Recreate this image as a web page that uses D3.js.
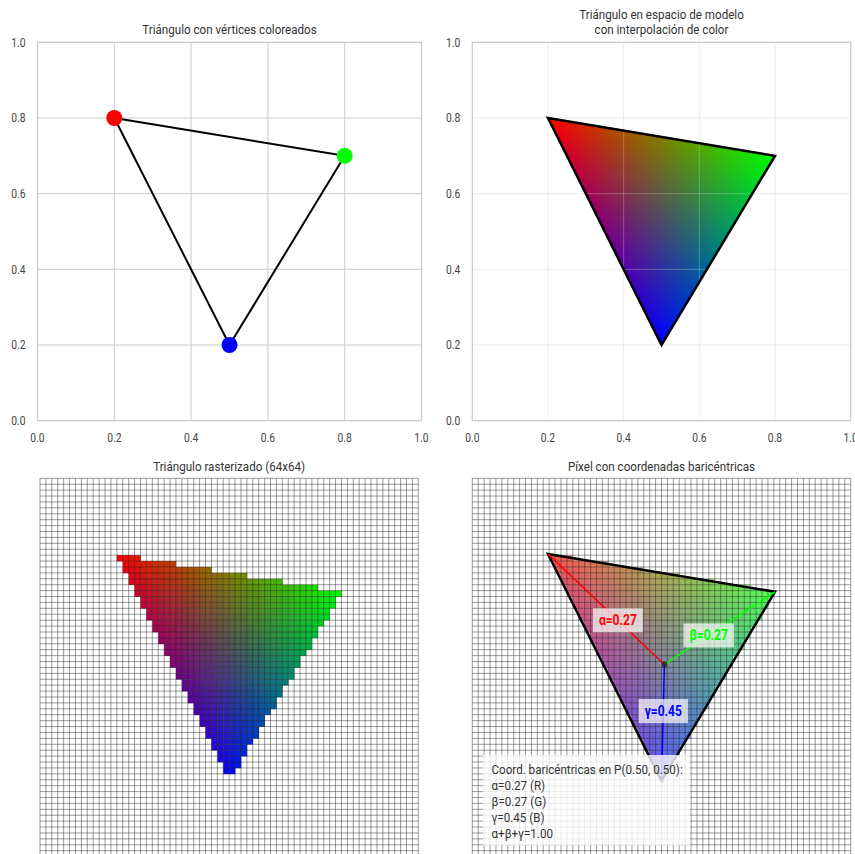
<!DOCTYPE html>
<html>
<head>
<meta charset="utf-8">
<script src="https://cdn.jsdelivr.net/npm/d3@7"></script>
<style>
  body { margin: 0; background: #fff; }
  text { font-family: Roboto, "Open Sans", sans-serif; }
</style>
</head>
<body>
<svg id="fig" width="855" height="854"></svg>
<script>
// triangle data
const vertX = [0.2, 0.8, 0.5];
const vertY = [0.8, 0.7, 0.2];
const vertColors = ['#ff0000', '#00ff00', '#0000ff'];
const baryNames = ['α', 'β', 'γ'];
const channelNames = ['R', 'G', 'B'];
const tickValues = [0, 0.2, 0.4, 0.6, 0.8, 1.0];
const gridRes = 64;
const pointP = [0.5, 0.5];
const titles = [
    ['Triángulo con vértices coloreados'],
    ['Triángulo en espacio de modelo', 'con interpolación de color'],
    ['Triángulo rasterizado (64x64)'],
    ['Píxel con coordenadas baricéntricas']
];

const svg = d3.select('#fig');
svg.append('rect').attr('width', 855).attr('height', 854).attr('fill', '#fff');

function bary(px, py) {
    let [x1, x2, x3] = vertX, [y1, y2, y3] = vertY;
    let det = (y2 - y3) * (x1 - x3) + (x3 - x2) * (y1 - y3);
    let a = ((y2 - y3) * (px - x3) + (x3 - x2) * (py - y3)) / det;
    let b = ((y3 - y1) * (px - x3) + (x1 - x3) * (py - y3)) / det;
    return [a, b, 1 - a - b];
}

function makeScales(left, right, top, bottom) {
    let x = d3.scaleLinear().domain([0, 1]).range([left, right]);
    let y = d3.scaleLinear().domain([0, 1]).range([bottom, top]);
    return {x, y};
}

// panel boxes (pixels)
const p1 = makeScales(37.5, 421.5, 42.3, 420.7);
const p2 = makeScales(472.3, 850.7, 42.3, 420.7);
const p3 = makeScales(40, 418.3, 478.3, 856.6);
const p4 = makeScales(472.3, 850.7, 478.3, 856.6);

const triPoints = (s) => vertX.map((v, i) => [s.x(v), s.y(vertY[i])]);

function drawAxes(g, s, gridColor, gridOpacity) {
    let [l, r] = s.x.range(), [b, t] = s.y.range();
    let grid = g.append('g');
    grid.selectAll('.gx').data(tickValues.slice(1, -1)).join('line')
        .attr('x1', d => s.x(d)).attr('x2', d => s.x(d))
        .attr('y1', t).attr('y2', b)
        .attr('stroke', gridColor).attr('stroke-opacity', gridOpacity).attr('stroke-width', 1);
    grid.selectAll('.gy').data(tickValues.slice(1, -1)).join('line')
        .attr('y1', d => s.y(d)).attr('y2', d => s.y(d))
        .attr('x1', l).attr('x2', r)
        .attr('stroke', gridColor).attr('stroke-opacity', gridOpacity).attr('stroke-width', 1);
    g.append('rect').attr('x', l).attr('y', t).attr('width', r - l).attr('height', b - t)
        .attr('fill', 'none').attr('stroke', '#cccccc').attr('stroke-width', 1.3);
    g.selectAll('.tx').data(tickValues).join('text')
        .attr('x', d => s.x(d)).attr('y', b + 21.5)
        .attr('text-anchor', 'middle').attr('font-size', 12).attr('fill', '#444')
        .text(d3.format('.1f'));
    g.selectAll('.ty').data(tickValues).join('text')
        .attr('x', l - 12).attr('y', d => s.y(d) + 4.3)
        .attr('text-anchor', 'end').attr('font-size', 12).attr('fill', '#444')
        .text(d3.format('.1f'));
    return grid;
}

function addTitle(lines, s, baseY) {
    let cx = (s.x.range()[0] + s.x.range()[1]) / 2;
    lines.forEach((t, i) => {
        svg.append('text').attr('x', cx).attr('y', baseY - (lines.length - 1 - i) * 15)
            .attr('text-anchor', 'middle').attr('font-size', 13.5).attr('fill', '#333')
            .text(t);
    });
}

// smooth interpolated triangle as an image
function gradientHref(w, h) {
    let canvas = document.createElement('canvas');
    canvas.width = w; canvas.height = h;
    let ctx = canvas.getContext('2d');
    let img = ctx.createImageData(w, h);
    for (let py = 0; py < h; py++) {
        for (let px = 0; px < w; px++) {
            let [a, b, c] = bary((px + 0.5) / w, 1 - (py + 0.5) / h);
            if (a < -0.002 || b < -0.002 || c < -0.002) continue;
            let k = (py * w + px) * 4;
            img.data[k] = Math.max(0, a) * 255;
            img.data[k + 1] = Math.max(0, b) * 255;
            img.data[k + 2] = Math.max(0, c) * 255;
            img.data[k + 3] = 255;
        }
    }
    ctx.putImageData(img, 0, 0);
    return canvas.toDataURL();
}
const gradHref = gradientHref(756, 756);

// rasterized pixels (centre test)
let pixels = [];
for (let j = 0; j < gridRes; j++) {
    for (let i = 0; i < gridRes; i++) {
        let w = bary((i + 0.5) / gridRes, (j + 0.5) / gridRes);
        if (w.every(v => v >= 0)) pixels.push({i, j, w});
    }
}

function drawPixels(g, s, opacity) {
    let cw = s.x(1 / gridRes) - s.x(0);
    let ch = s.y(0) - s.y(1 / gridRes);
    g.append('g').attr('opacity', opacity)
        .selectAll('rect').data(pixels).join('rect')
        .attr('x', d => s.x(d.i / gridRes)).attr('y', d => s.y((d.j + 1) / gridRes))
        .attr('width', cw + 0.3).attr('height', ch + 0.3)
        .attr('fill', d => d3.rgb(d.w[0] * 255, d.w[1] * 255, d.w[2] * 255));
}

function drawPixelGrid(g, s) {
    let ks = d3.range(gridRes + 1);
    let [l, r] = s.x.range(), [b, t] = s.y.range();
    let gg = g.append('g').attr('stroke', '#222').attr('stroke-opacity', 0.6).attr('stroke-width', 0.75);
    gg.selectAll('.vx').data(ks).join('line')
        .attr('x1', d => s.x(d / gridRes)).attr('x2', d => s.x(d / gridRes)).attr('y1', t).attr('y2', b);
    gg.selectAll('.hy').data(ks).join('line')
        .attr('y1', d => s.y(d / gridRes)).attr('y2', d => s.y(d / gridRes)).attr('x1', l).attr('x2', r);
}

// ---- panel 1
let g1 = svg.append('g');
drawAxes(g1, p1, '#cccccc', 1);
g1.append('polygon').attr('points', triPoints(p1).map(p => p.join(',')).join(' '))
    .attr('fill', 'none').attr('stroke', '#000').attr('stroke-width', 2);
g1.selectAll('circle').data(vertX).join('circle')
    .attr('cx', d => p1.x(d)).attr('cy', (d, i) => p1.y(vertY[i])).attr('r', 8)
    .attr('fill', (d, i) => vertColors[i]);
addTitle(titles[0], p1, 33.5);

// ---- panel 2
let g2 = svg.append('g');
g2.append('image').attr('href', gradHref)
    .attr('x', p2.x(0)).attr('y', p2.y(1))
    .attr('width', p2.x(1) - p2.x(0)).attr('height', p2.y(0) - p2.y(1))
    .attr('preserveAspectRatio', 'none');
drawAxes(g2, p2, '#cccccc', 0.35);
g2.append('polygon').attr('points', triPoints(p2).map(p => p.join(',')).join(' '))
    .attr('fill', 'none').attr('stroke', '#000').attr('stroke-width', 2.5).attr('stroke-linejoin', 'miter');
addTitle(titles[1], p2, 33.5);

// ---- panel 3
let g3 = svg.append('g');
drawPixels(g3, p3, 1);
drawPixelGrid(g3, p3);
addTitle(titles[2], p3, 470.5);

// ---- panel 4
let g4 = svg.append('g');
drawPixels(g4, p4, 0.42);
g4.append('image').attr('href', gradHref)
    .attr('x', p4.x(0)).attr('y', p4.y(1))
    .attr('width', p4.x(1) - p4.x(0)).attr('height', p4.y(0) - p4.y(1))
    .attr('preserveAspectRatio', 'none').attr('opacity', 0.42);
drawPixelGrid(g4, p4);
g4.append('polygon').attr('points', triPoints(p4).map(p => p.join(',')).join(' '))
    .attr('fill', 'none').attr('stroke', '#000').attr('stroke-width', 2.5);
addTitle(titles[3], p4, 470.5);

let pc = Math.floor(pointP[0] * gridRes), pr = Math.floor(pointP[1] * gridRes);
let Px = p4.x((pc + 0.5) / gridRes), Py = p4.y((pr + 0.5) / gridRes);
let wP = bary(pointP[0], pointP[1]);
let verts4 = triPoints(p4);

g4.selectAll('.spoke').data(verts4).join('line')
    .attr('x1', Px).attr('y1', Py).attr('x2', d => d[0]).attr('y2', d => d[1])
    .attr('stroke', (d, i) => vertColors[i]).attr('stroke-width', 1.5);
g4.append('rect').attr('x', Px - 2.5).attr('y', Py - 2.5).attr('width', 5).attr('height', 5)
    .attr('fill', '#222').attr('opacity', 0.8);

let labelItems = verts4.map((v, i) => {
    let lx = v[0] * 0.4 + Px * 0.6, ly = v[1] * 0.4 + Py * 0.6;
    let lg = g4.append('g');
    let box = lg.append('rect');
    let t = lg.append('text').attr('x', lx).attr('y', ly + 5)
        .attr('text-anchor', 'middle').attr('font-size', 14).attr('font-weight', 'bold')
        .attr('fill', vertColors[i])
        .text(`${baryNames[i]}=${wP[i].toFixed(2)}`);
    return {t, box};
});

// info box
let info = [
    `Coord. baricéntricas en P(${pointP[0].toFixed(2)}, ${pointP[1].toFixed(2)}):`,
    ...wP.map((w, i) => `${baryNames[i]}=${w.toFixed(2)} (${channelNames[i]})`),
    `α+β+γ=${d3.sum(wP).toFixed(2)}`
];
let infoG = g4.append('g');
let infoBox = infoG.append('rect');
infoG.selectAll('text').data(info).join('text')
    .attr('x', 491.5).attr('y', (d, i) => 774 + i * 16.1)
    .attr('font-size', 13.5).attr('fill', '#333')
    .text(d => d);

// condensed look (reference font is a narrow face)
svg.selectAll('text').each(function () {
    let len = this.getComputedTextLength();
    d3.select(this).attr('textLength', len * 0.86).attr('lengthAdjust', 'spacingAndGlyphs');
});

// label boxes sized from text
labelItems.forEach(d => {
    let bb = d.t.node().getBBox();
    d.box.attr('x', bb.x - 6).attr('y', bb.y - 4).attr('width', bb.width + 12).attr('height', bb.height + 8)
        .attr('fill', '#fff').attr('opacity', 0.7);
});
let ib = infoG.node().getBBox();
infoBox.attr('x', ib.x - 8.5).attr('y', ib.y - 6).attr('width', ib.width + 16).attr('height', ib.height + 10)
    .attr('fill', '#fff').attr('opacity', 0.8);
</script>
</body>
</html>
